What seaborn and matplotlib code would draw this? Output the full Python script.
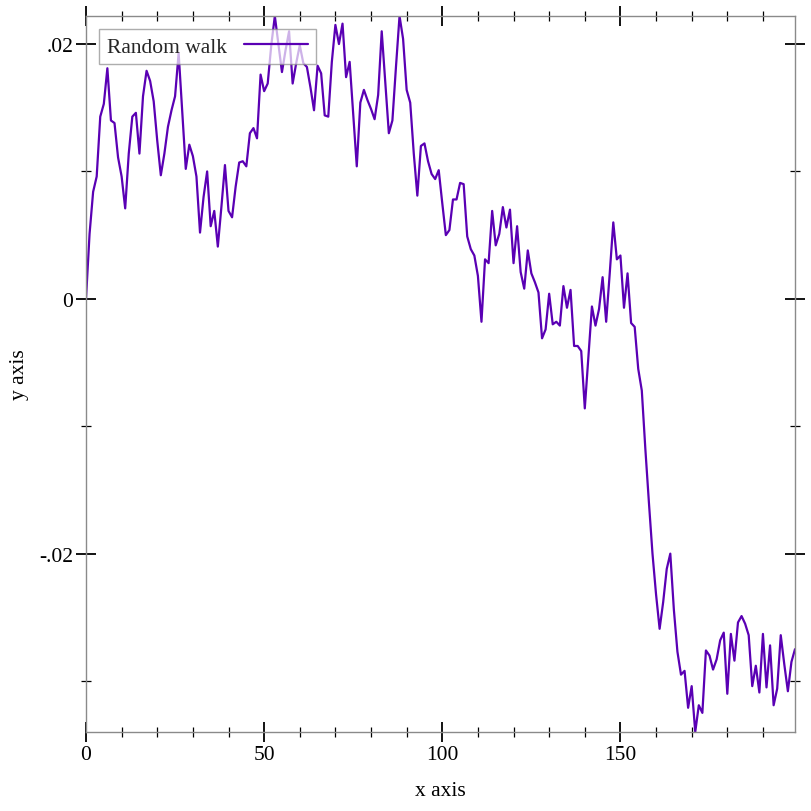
import numpy as np
import pandas as pd
import matplotlib
matplotlib.use("Agg")
import matplotlib.pyplot as plt
from matplotlib.ticker import MultipleLocator, FixedLocator, FixedFormatter
import seaborn as sns

# Random walk values, one per step (x = 0 .. 199)
steps = list(range(200))
walk = [
    0.0, 0.0051, 0.0084, 0.0096, 0.0143, 0.0153, 0.0181, 0.0140, 0.0138, 0.0111,
    0.0096, 0.0071, 0.0114, 0.0143, 0.0146, 0.0114, 0.0159, 0.0179, 0.0171, 0.0155,
    0.0124, 0.0097, 0.0114, 0.0135, 0.0148, 0.0159, 0.0193, 0.0147, 0.0102, 0.0121,
    0.0112, 0.0096, 0.0052, 0.0080, 0.0100, 0.0057, 0.0069, 0.0041, 0.0072, 0.0105,
    0.0069, 0.0064, 0.0088, 0.0107, 0.0108, 0.0104, 0.0130, 0.0134, 0.0126, 0.0176,
    0.0163, 0.0169, 0.0199, 0.0222, 0.0200, 0.0178, 0.0195, 0.0210, 0.0169, 0.0185,
    0.0199, 0.0185, 0.0182, 0.0166, 0.0148, 0.0183, 0.0177, 0.0144, 0.0143, 0.0186,
    0.0215, 0.0200, 0.0216, 0.0174, 0.0186, 0.0145, 0.0104, 0.0154, 0.0164, 0.0156,
    0.0149, 0.0141, 0.0160, 0.0210, 0.0170, 0.0130, 0.0140, 0.0182, 0.0222, 0.0204,
    0.0164, 0.0154, 0.0114, 0.0081, 0.0120, 0.0122, 0.0108, 0.0098, 0.0094, 0.0101,
    0.0075, 0.0050, 0.0054, 0.0078, 0.0078, 0.0091, 0.0090, 0.0049, 0.0039, 0.0034,
    0.0018, -0.0018, 0.0031, 0.0028, 0.0069, 0.0042, 0.0051, 0.0072, 0.0056, 0.0070,
    0.0028, 0.0057, 0.0021, 0.0008, 0.0038, 0.0020, 0.0013, 0.0005, -0.0031, -0.0024,
    0.0004, -0.0020, -0.0018, -0.0021, 0.0010, -0.0007, 0.0007, -0.0037, -0.0037, -0.0041,
    -0.0086, -0.0046, -0.0006, -0.0021, -0.0008, 0.0017, -0.0018, 0.0020, 0.0060, 0.0031,
    0.0034, -0.0007, 0.0020, -0.0019, -0.0022, -0.0055, -0.0072, -0.0118, -0.0160, -0.0200,
    -0.0232, -0.0259, -0.0238, -0.0212, -0.0200, -0.0244, -0.0277, -0.0295, -0.0292, -0.0321,
    -0.0304, -0.0340, -0.0319, -0.0325, -0.0276, -0.0280, -0.0291, -0.0283, -0.0268, -0.0262,
    -0.0310, -0.0263, -0.0284, -0.0254, -0.0249, -0.0255, -0.0264, -0.0304, -0.0288, -0.0309,
    -0.0263, -0.0305, -0.0272, -0.0319, -0.0306, -0.0264, -0.0287, -0.0308, -0.0285, -0.0275,
]
series_label = "Random walk"

x_ticks = [0, 50, 100, 150]
x_tick_labels = ["0", "50", "100", "150"]
y_ticks = [-0.02, 0.0, 0.02]
y_tick_labels = ["-.02", "0", ".02"]

df = pd.DataFrame({"x": steps, "y": walk})

sns.set_theme(style="white")
plt.rcParams["font.family"] = ["Liberation Serif", "DejaVu Serif"]

line_color = "#5a00b4"
fs = 15.5

fig = plt.figure(figsize=(8.12, 8.12), dpi=100)
ax = fig.add_axes([86 / 812, 1 - 733 / 812, (795 - 86) / 812, (733 - 17) / 812])

sns.lineplot(data=df, x="x", y="y", color=line_color, linewidth=1.6,
             estimator=None, sort=False, label=series_label, ax=ax)

ax.set_xlim(df["x"].min(), df["x"].max())
ax.set_ylim(df["y"].min(), df["y"].max())

ax.xaxis.set_major_locator(FixedLocator(x_ticks))
ax.xaxis.set_major_formatter(FixedFormatter(x_tick_labels))
ax.yaxis.set_major_locator(FixedLocator(y_ticks))
ax.yaxis.set_major_formatter(FixedFormatter(y_tick_labels))
ax.xaxis.set_minor_locator(MultipleLocator(10))
ax.yaxis.set_minor_locator(MultipleLocator(0.01))

ax.tick_params(which="both", bottom=True, top=True, left=True, right=True)
ax.tick_params(which="major", direction="inout", length=14.5, width=1.3,
               color="black", labelsize=fs, pad=2, labelcolor="black")
ax.tick_params(which="minor", direction="inout", length=7, width=0.9,
               color="black")

for sp in ax.spines.values():
    sp.set_color("#8a8a8a")
    sp.set_linewidth(1.0)
    sp.set_visible(True)

ax.set_xlabel("x axis", fontsize=fs, color="black", labelpad=12.5)
ax.set_ylabel("y axis", fontsize=fs, color="black", labelpad=7.5)

leg = ax.legend(loc="upper left", markerfirst=False, frameon=True, fancybox=False,
                framealpha=0.7, edgecolor="#8a8a8a", fontsize=fs,
                handlelength=3.0, handletextpad=0.8, borderpad=0.36,
                borderaxespad=0.6)
leg.get_frame().set_linewidth(1.0)

fig.savefig("out.png", dpi=100, facecolor="white")
